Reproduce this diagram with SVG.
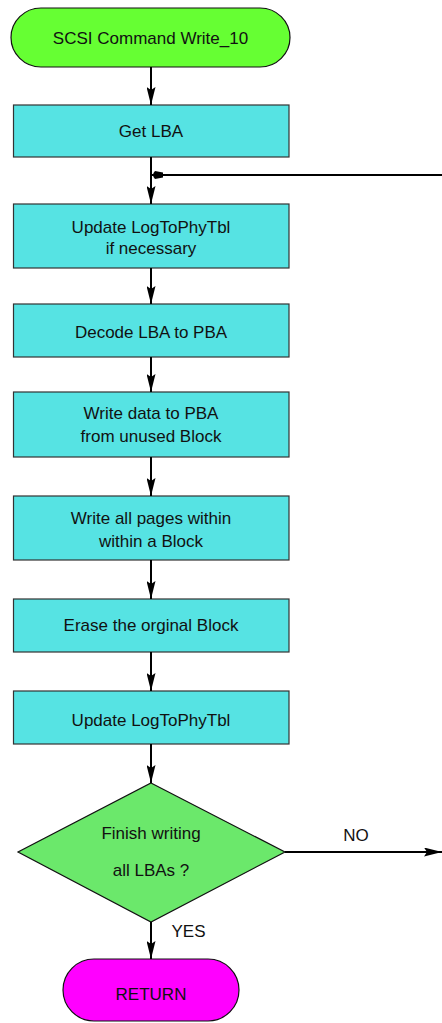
<svg xmlns="http://www.w3.org/2000/svg" width="442" height="1023" viewBox="0 0 442 1023">
  <style>
    .lbl { font-family: "Liberation Sans", Arial, sans-serif; font-size: 17px; fill: #111; text-anchor: middle; }
    .proc { fill: #56E3E3; stroke: #333; stroke-width: 1.2; }
    .term-start { fill: #66FF33; stroke: #111; stroke-width: 1.2; }
    .term-end { fill: #FF00FF; stroke: #111; stroke-width: 1.2; }
    .decision { fill: #6BE86B; stroke: #111; stroke-width: 1.2; }
    .edge { fill: none; stroke: #000; stroke-width: 2; }
  </style>
  <defs>
    <marker id="arrow" viewBox="0 0 18 9" refX="18" refY="4.5" markerWidth="18" markerHeight="9" markerUnits="userSpaceOnUse" orient="auto">
      <path d="M0,0 L18,4.5 L0,9 L3,4.5 Z" fill="#000"/>
    </marker>
    <marker id="join" viewBox="0 0 12 8" refX="12" refY="4" markerWidth="12" markerHeight="8" markerUnits="userSpaceOnUse" orient="auto">
      <path d="M0,1.5 L8,0 Q12,4 8,8 L0,6.5 Z" fill="#000"/>
    </marker>
  </defs>

  <g id="start">
    <rect class="term-start" x="11" y="8" width="279" height="59" rx="30" ry="29.5"/>
    <text class="lbl" x="150.5" y="44">SCSI Command Write_10</text>
  </g>

  <g id="get-lba">
    <rect class="proc" x="13.5" y="105" width="275.5" height="52"/>
    <text class="lbl" x="151" y="137">Get LBA</text>
  </g>

  <g id="update-if-needed">
    <rect class="proc" x="13.5" y="204" width="275.5" height="64"/>
    <text class="lbl" x="151" y="233">Update LogToPhyTbl</text>
    <text class="lbl" x="151" y="254">if necessary</text>
  </g>

  <g id="decode">
    <rect class="proc" x="13.5" y="304" width="275.5" height="53"/>
    <text class="lbl" x="151" y="338">Decode LBA to PBA</text>
  </g>

  <g id="write-data">
    <rect class="proc" x="13.5" y="392" width="275.5" height="65"/>
    <text class="lbl" x="151" y="419">Write data to PBA</text>
    <text class="lbl" x="151" y="442">from unused Block</text>
  </g>

  <g id="write-pages">
    <rect class="proc" x="13.5" y="496" width="275.5" height="64"/>
    <text class="lbl" x="151" y="524">Write all pages within</text>
    <text class="lbl" x="151" y="547">within a Block</text>
  </g>

  <g id="erase">
    <rect class="proc" x="13.5" y="599" width="275.5" height="53"/>
    <text class="lbl" x="151" y="631">Erase the orginal Block</text>
  </g>

  <g id="update-table">
    <rect class="proc" x="13.5" y="691" width="275.5" height="53"/>
    <text class="lbl" x="151" y="726">Update LogToPhyTbl</text>
  </g>

  <g id="finish-check">
    <polygon class="decision" points="151,783 285,852 151,922 18,852"/>
    <text class="lbl" x="151" y="839">Finish writing</text>
    <text class="lbl" x="151" y="876">all LBAs ?</text>
  </g>

  <g id="return">
    <rect class="term-end" x="63" y="959" width="176" height="62" rx="31" ry="31"/>
    <text class="lbl" x="151" y="1000">RETURN</text>
  </g>

  <g id="connectors">
    <line class="edge" x1="151" y1="67" x2="151" y2="105" marker-end="url(#arrow)"/>
    <line class="edge" x1="151" y1="157" x2="151" y2="204" marker-end="url(#arrow)"/>
    <line class="edge" x1="442" y1="175" x2="151" y2="175" marker-end="url(#join)"/>
    <line class="edge" x1="151" y1="268" x2="151" y2="304" marker-end="url(#arrow)"/>
    <line class="edge" x1="151" y1="357" x2="151" y2="392" marker-end="url(#arrow)"/>
    <line class="edge" x1="151" y1="457" x2="151" y2="496" marker-end="url(#arrow)"/>
    <line class="edge" x1="151" y1="560" x2="151" y2="599" marker-end="url(#arrow)"/>
    <line class="edge" x1="151" y1="652" x2="151" y2="691" marker-end="url(#arrow)"/>
    <line class="edge" x1="151" y1="744" x2="151" y2="783" marker-end="url(#arrow)"/>
    <line class="edge" x1="285" y1="852" x2="442" y2="852" marker-end="url(#arrow)"/>
    <line class="edge" x1="151" y1="922" x2="151" y2="959" marker-end="url(#arrow)"/>
    <text class="lbl" x="356" y="841">NO</text>
    <text class="lbl" x="188.5" y="937">YES</text>
  </g>
</svg>
